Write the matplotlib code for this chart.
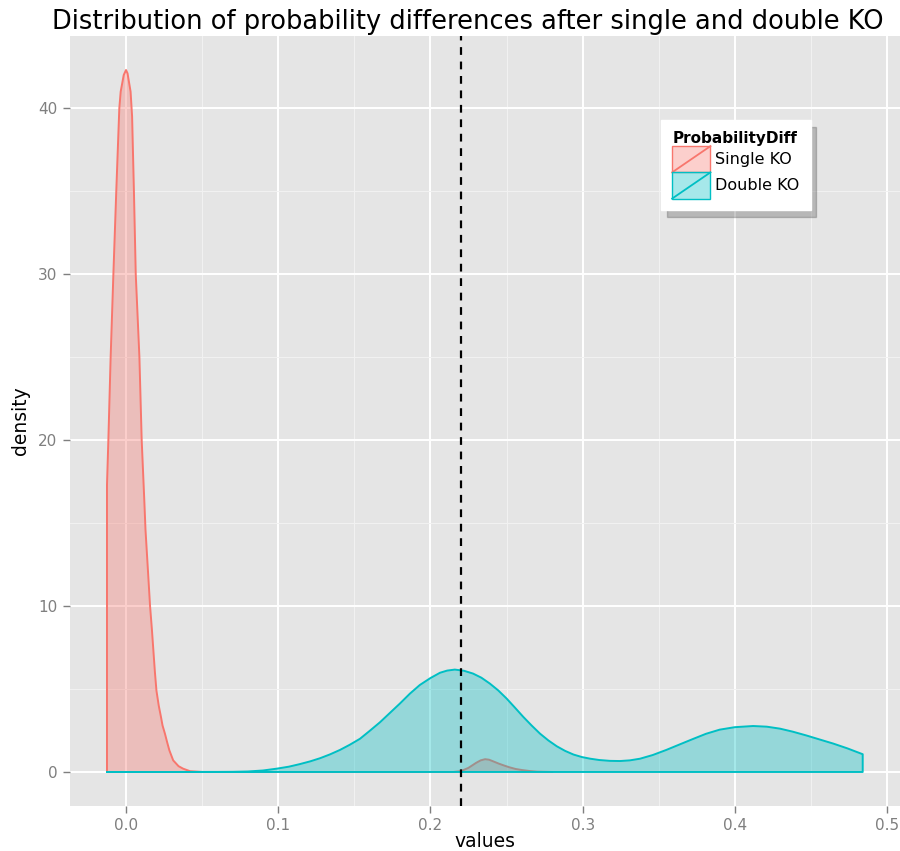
import matplotlib
matplotlib.use('Agg')
import matplotlib.pyplot as plt
from matplotlib.patches import Rectangle
from matplotlib.lines import Line2D
from matplotlib.legend_handler import HandlerBase

# density curve of the single KO differences
single_x = [-0.0125, -0.0125, -0.0116, -0.0101, -0.0083, -0.0064, -0.0044, -0.0035, -0.0015,
            0.0, 0.0010, 0.0030, 0.0040, 0.0052, 0.0064, 0.0088, 0.0103, 0.0120, 0.0128,
            0.0145, 0.0158, 0.0170, 0.0180, 0.0190, 0.0200, 0.0215, 0.0230, 0.0240, 0.0256,
            0.0270, 0.0285, 0.0310, 0.0345, 0.0375, 0.0420, 0.0500, 0.1000, 0.1500, 0.2000,
            0.2150, 0.2200, 0.2250, 0.2300, 0.2330, 0.2359, 0.2385, 0.2410, 0.2450, 0.2490,
            0.2520, 0.2560, 0.2600, 0.2650, 0.2700, 0.2800]
single_y = [0.0, 17.3, 20.0, 25.0, 30.0, 35.0, 40.0, 41.0, 42.0,
            42.3, 42.1, 41.0, 39.5, 35.0, 30.0, 25.0, 20.0, 16.4, 14.6,
            12.0, 10.0, 8.6, 7.3, 6.0, 4.9, 4.0, 3.3, 2.8, 2.3,
            1.8, 1.3, 0.7, 0.35, 0.2, 0.05, 0.0, 0.0, 0.0, 0.0,
            0.0, 0.05, 0.25, 0.55, 0.70, 0.77, 0.74, 0.65, 0.5, 0.37,
            0.28, 0.18, 0.12, 0.06, 0.02, 0.0]

# density curve of the double KO differences
double_x = [-0.0125, 0.030, 0.060, 0.070, 0.080, 0.090, 0.099, 0.107, 0.114, 0.121,
            0.1275, 0.134, 0.1406, 0.147, 0.1537, 0.160, 0.1669, 0.1735, 0.180, 0.1865,
            0.193, 0.200, 0.2063, 0.211, 0.216, 0.222, 0.228, 0.2335, 0.239, 0.2445,
            0.250, 0.2555, 0.261, 0.2665, 0.272, 0.2775, 0.283, 0.2885, 0.294, 0.2995,
            0.305, 0.311, 0.318, 0.3246, 0.331, 0.3377, 0.346, 0.355, 0.364, 0.3728,
            0.381, 0.390, 0.400, 0.412, 0.421, 0.4297, 0.438, 0.447, 0.456, 0.4647,
            0.474, 0.484, 0.484]
double_y = [0.0, 0.0, 0.005, 0.01, 0.03, 0.09, 0.2, 0.32, 0.47, 0.64,
            0.83, 1.06, 1.33, 1.64, 2.0, 2.47, 3.0, 3.57, 4.13, 4.72,
            5.24, 5.66, 5.98, 6.11, 6.17, 6.10, 5.93, 5.68, 5.33, 4.92,
            4.43, 3.88, 3.32, 2.80, 2.31, 1.90, 1.55, 1.27, 1.05, 0.90,
            0.80, 0.72, 0.67, 0.66, 0.70, 0.80, 1.02, 1.33, 1.67, 2.0,
            2.30, 2.55, 2.70, 2.77, 2.73, 2.61, 2.43, 2.20, 1.95, 1.71,
            1.42, 1.07, 0.0]

cutoff = 0.22
x_ticks = [0.0, 0.1, 0.2, 0.3, 0.4, 0.5]
x_labels = ['0.0', '0.1', '0.2', '0.3', '0.4', '0.5']
y_ticks = [0, 10, 20, 30, 40]
series_names = ['Single KO', 'Double KO']

red = '#F8766D'
cyan = '#00BFC4'
fill_alpha = 0.35

plt.rcParams['font.family'] = ['DejaVu Sans']

fig = plt.figure(figsize=(9, 8.51), dpi=100)
ax = fig.add_axes([70/900, 1-806/851, 830/900, 770/851])
ax.set_facecolor('#E5E5E5')

ax.fill(single_x, single_y, facecolor=red, alpha=fill_alpha, edgecolor='none', zorder=3)
ax.plot(single_x, single_y, color=red, lw=1.4, zorder=4)
ax.fill(double_x, double_y, facecolor=cyan, alpha=fill_alpha, edgecolor='none', zorder=5)
ax.plot(double_x + [double_x[0]], double_y + [double_y[0]], color=cyan, lw=1.4, zorder=6)

ax.axvline(cutoff, color='black', lw=1.6, ls=(0, (3.5, 3)), zorder=7)

ax.set_xticks(x_ticks)
ax.set_xticklabels(x_labels)
ax.set_yticks(y_ticks)
ax.set_xticks([-0.05, 0.05, 0.15, 0.25, 0.35, 0.45], minor=True)
ax.set_yticks([5, 15, 25, 35], minor=True)
ax.set_xlim(-0.0368, 0.5085)
ax.set_ylim(-2.05, 44.35)
ax.grid(which='major', color='white', lw=1.4, zorder=0)
ax.grid(which='minor', color='#F2F2F2', lw=0.7, zorder=0)
ax.set_axisbelow(True)
for s in ax.spines.values():
    s.set_visible(False)
ax.tick_params(which='major', length=5, width=1, color='#7F7F7F', labelcolor='#7F7F7F',
               labelsize=11, pad=4)
ax.tick_params(which='minor', length=0)

ax.set_xlabel('values', fontsize=13.5, labelpad=-1)
ax.set_ylabel('density', fontsize=13.5, labelpad=6)
fig.text(468/900, 1-22/851, 'Distribution of probability differences after single and double KO',
         ha='center', va='center', fontsize=18.5)


class DiagHandler(HandlerBase):
    def create_artists(self, legend, orig_handle, xdescent, ydescent, width, height, fontsize, trans):
        c = orig_handle.get_color()
        r = Rectangle((-xdescent, -ydescent), width, height, facecolor=c, alpha=fill_alpha,
                      edgecolor='none', transform=trans)
        b = Rectangle((-xdescent, -ydescent), width, height, facecolor='none',
                      edgecolor=c, lw=1.0, transform=trans)
        d = Line2D([-xdescent, -xdescent + width], [-ydescent, -ydescent + height],
                   color=c, lw=1.3, transform=trans)
        return [r, b, d]


handles = [Line2D([], [], color=red), Line2D([], [], color=cyan)]
leg = ax.legend(handles, series_names, title='ProbabilityDiff', loc='upper left',
                bbox_to_anchor=(0.712, 0.891), borderaxespad=0, fontsize=11.5,
                title_fontproperties={'weight': 'bold', 'size': 11},
                handler_map={Line2D: DiagHandler()}, handlelength=2.4, handleheight=2.15,
                labelspacing=0, handletextpad=0.3, borderpad=0.7,
                fancybox=False, shadow={'color': '0.3', 'alpha': 0.3, 'ox': 4, 'oy': -5},
                framealpha=1, edgecolor='white')
leg._legend_box.align = 'left'
leg.set_zorder(10)

fig.savefig('out.png', dpi=100)
